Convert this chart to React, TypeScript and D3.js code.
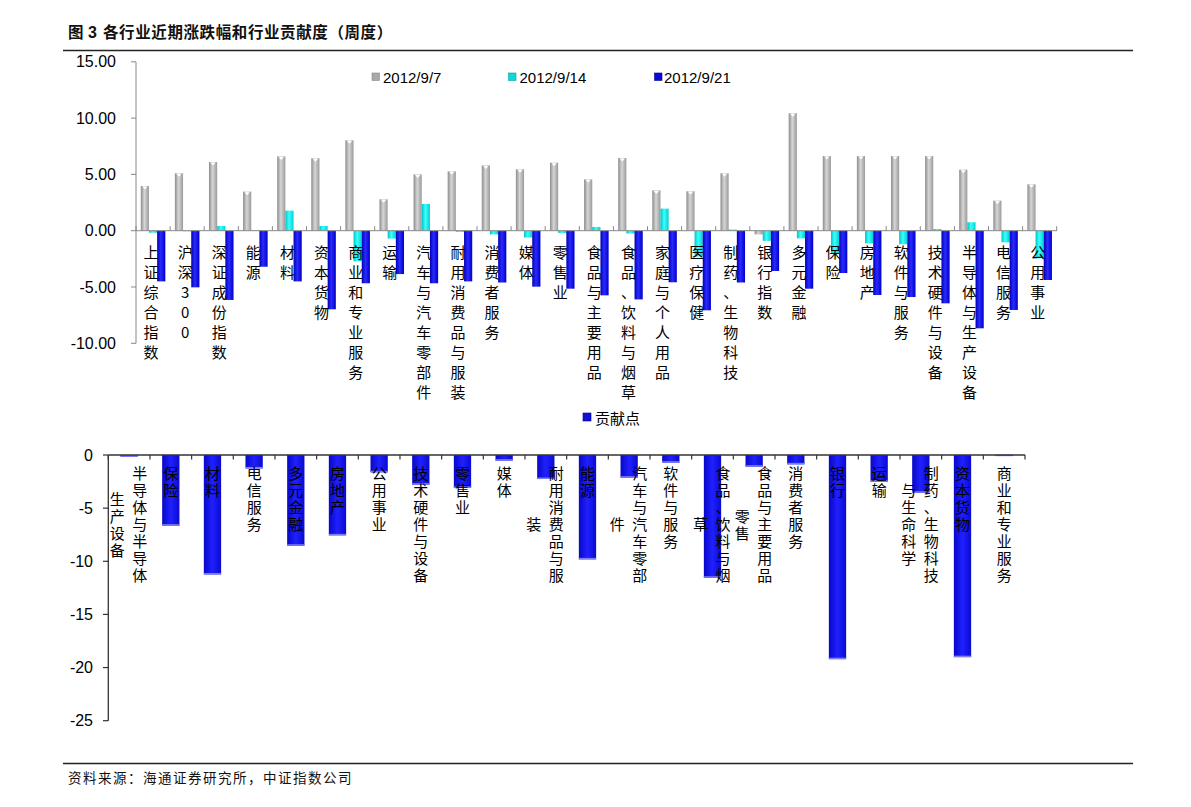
import React from "react";
import * as d3 from "d3";

const topCats = ["上证综合指数","沪深300","深证成份指数","能源","材料","资本货物","商业和专业服务","运输","汽车与汽车零部件","耐用消费品与服装","消费者服务","媒体","零售业","食品与主要用品","食品、饮料与烟草","家庭与个人用品","医疗保健","制药、生物科技","银行指数","多元金融","保险","房地产","软件与服务","技术硬件与设备","半导体与生产设备","电信服务","公用事业"];
const seriesNames = ["2012/9/7","2012/9/14","2012/9/21"];
const w0907 = [3.97,5.1,6.1,3.47,6.6,6.43,8.03,2.79,5.0,5.27,5.8,5.45,6.04,4.56,6.46,3.58,3.5,5.1,-0.33,10.43,6.63,6.63,6.63,6.63,5.42,2.67,4.12];
const w0914 = [-0.18,-0.05,0.42,0.05,1.78,0.42,-2.72,-0.7,2.37,-0.1,-0.33,-0.6,-0.2,0.33,-0.25,1.96,-2.3,0.1,-0.9,-0.68,-2.0,-1.12,-1.2,0.15,0.75,-1.03,-2.45];
const w0921 = [-4.5,-5.03,-6.15,-3.2,-4.5,-6.98,-4.67,-3.85,-4.67,-4.5,-4.6,-4.97,-5.15,-5.74,-6.1,-4.58,-7.07,-4.6,-3.58,-5.15,-3.76,-5.71,-5.89,-6.45,-8.67,-7.04,-4.38];
const topTicks = [15,10,5,0,-5,-10];

const botCats = ["半导体与半导体生产设备","保险","材料","电信服务","多元金融","房地产","公用事业","技术硬件与设备","零售业","媒体","耐用消费品与服装","能源","汽车与汽车零部件","软件与服务","食品、饮料与烟草","食品与主要用品零售","消费者服务","银行","运输","制药、生物科技与生命科学","资本货物","商业和专业服务"];
const contribName = "贡献点";
const contrib = [-0.15,-6.65,-11.24,-1.26,-8.54,-7.56,-1.63,-2.79,-3.1,-0.53,-2.26,-9.82,-2.13,-0.72,-11.55,-1.1,-0.88,-19.21,-2.51,-3.55,-19.02,-0.1];
const botTicks = [0,-5,-10,-15,-20,-25];

const titleText = "各行业近期涨跌幅和行业贡献度（周度）";
const sourceText = "资料来源：海通证券研究所，中证指数公司";

const CJK = "'Noto Sans CJK SC', 'Noto Sans', sans-serif";
const LAT = "'Liberation Sans', Arial, sans-serif";

const gradIds = ["gGray", "gCyan", "gBlue"];
const legendColors = ["#a8a8a8", "#10d8d8", "#0a0ad8"];

export default function App() {
  const series = [w0907, w0914, w0921];

  const xTop = d3.scaleBand<string>().domain(topCats).range([136, 1056.7]).padding(0);
  const bwTop = xTop.bandwidth();
  const xInner = d3.scaleBand<string>().domain(seriesNames).range([bwTop * 0.14, bwTop * 0.86]).padding(0);
  const yTop = d3.scaleLinear().domain([-10, 15]).range([343.3, 61.8]);

  const xBot = d3.scaleBand<string>().domain(botCats).range([108.3, 1025]).padding(0);
  const bwBot = xBot.bandwidth();
  const barBot = bwBot * 0.415;
  const yBot = d3.scaleLinear().domain([-25, 0]).range([720.7, 455]);

  const topBoundaries = d3.range(topCats.length + 1).map((i) => 136 + i * bwTop);
  const botBoundaries = d3.range(botCats.length + 1).map((i) => 108.3 + i * bwBot);

  const chunk = (s: string, n: number) => {
    const chars = Array.from(s);
    const out: string[][] = [];
    for (let i = 0; i < chars.length; i += n) out.push(chars.slice(i, i + n));
    return out;
  };

  return (
    <svg width={1191} height={807} style={{ position: "absolute", left: 0, top: 0, background: "#fff" }}>
      <defs>
        <linearGradient id="gGray" x1="0" x2="1" y1="0" y2="0">
          <stop offset="0" stopColor="#8c8c8c" />
          <stop offset="0.45" stopColor="#d6d6d6" />
          <stop offset="1" stopColor="#9a9a9a" />
        </linearGradient>
        <linearGradient id="gCyan" x1="0" x2="1" y1="0" y2="0">
          <stop offset="0" stopColor="#00c4c4" />
          <stop offset="0.45" stopColor="#3cffff" />
          <stop offset="1" stopColor="#00d0d0" />
        </linearGradient>
        <linearGradient id="gBlue" x1="0" x2="1" y1="0" y2="0">
          <stop offset="0" stopColor="#0000b4" />
          <stop offset="0.45" stopColor="#2a2aff" />
          <stop offset="1" stopColor="#0000c8" />
        </linearGradient>
        <linearGradient id="gBlueB" x1="0" x2="1" y1="0" y2="0">
          <stop offset="0" stopColor="#0808c8" />
          <stop offset="0.5" stopColor="#2020ff" />
          <stop offset="1" stopColor="#0a0ad0" />
        </linearGradient>
      </defs>

      {/* title */}
      <text x={68} y={38} fontFamily={CJK} fontSize={15.5} fontWeight="bold" fill="#111" letterSpacing={0.6}>
        <tspan>图</tspan>
        <tspan x={88} fontFamily={LAT} fontSize={16}>3</tspan>
        <tspan x={103}>{titleText}</tspan>
      </text>
      <line x1={63} x2={1133} y1={50.5} y2={50.5} stroke="#222" strokeWidth={1.3} />

      {/* TOP CHART */}
      <line x1={136} x2={136} y1={yTop(15)} y2={yTop(-10)} stroke="#888" strokeWidth={1} />
      {topTicks.map((t) => (
        <g key={"tt" + t}>
          <line x1={131} x2={136} y1={yTop(t)} y2={yTop(t)} stroke="#888" />
          <text x={116} y={yTop(t)} textAnchor="end" dominantBaseline="central" fontFamily={LAT} fontSize={16} fill="#000">
            {t.toFixed(2)}
          </text>
        </g>
      ))}

      {topCats.map((c, i) =>
        series.map((vals, s) => {
          const v = vals[i];
          const x = (xTop(c) as number) + (xInner(seriesNames[s]) as number);
          const w = xInner.bandwidth();
          const y0 = yTop(Math.max(0, v));
          const h = Math.abs(yTop(v) - yTop(0));
          return (
            <g key={c + s}>
              <rect x={x} y={y0} width={w} height={h} fill={`url(#${gradIds[s]})`} />
              {s === 0 && v > 0 && (
                <path d={`M${x + 1.5},${y0 + 0.5} L${x + w - 1.5},${y0 + 0.5} L${x + w / 2},${y0 + 3.5} Z`} fill="#fff" />
              )}
            </g>
          );
        })
      )}

      <line x1={136} x2={1057} y1={yTop(0)} y2={yTop(0)} stroke="#888" strokeWidth={1} />
      {topBoundaries.map((b, i) => (
        <line key={"tb" + i} x1={b} x2={b} y1={yTop(0) - 4.5} y2={yTop(0)} stroke="#888" />
      ))}

      {topCats.map((c) => {
        const cx = (xTop(c) as number) + bwTop / 2 - 2;
        return Array.from(c).map((ch, k) => (
          <text key={c + "l" + k} x={cx} y={251.7 + k * 20} textAnchor="middle" dominantBaseline="central" fontFamily={CJK} fontSize={15} fill="#000">
            {ch}
          </text>
        ));
      })}

      {[
        { x: 372, tx: 383 },
        { x: 508.5, tx: 519.5 },
        { x: 654.5, tx: 664 },
      ].map((p, s) => (
        <g key={"lg" + s}>
          <rect x={p.x} y={73} width={7.5} height={7.5} fill={legendColors[s]} stroke={s === 0 ? "#888" : s === 1 ? "#00a0a0" : "#000090"} strokeWidth={0.6} />
          <text x={p.tx} y={77} dominantBaseline="central" fontFamily={LAT} fontSize={15} fill="#000">
            {seriesNames[s]}
          </text>
        </g>
      ))}

      {/* BOTTOM CHART */}
      <rect x={583} y={413} width={8} height={8} fill="#1010d8" stroke="#000090" strokeWidth={0.6} />
      <text x={595} y={417.5} dominantBaseline="central" fontFamily={CJK} fontSize={15} fill="#000">{contribName}</text>

      {botCats.map((c, i) => {
        const v = contrib[i];
        const cx = (xBot(c) as number) + bwBot / 2;
        const y0 = yBot(0);
        const h = Math.abs(yBot(v) - y0);
        return (
          <g key={"bb" + c}>
            <rect x={cx - barBot / 2} y={y0} width={barBot} height={h} fill="url(#gBlueB)" />
            <rect x={cx - barBot / 2} y={y0 + h - 1.5} width={barBot} height={1.5} fill="#7c7cf4" />
          </g>
        );
      })}

      <line x1={108.3} x2={108.3} y1={yBot(0)} y2={yBot(-25)} stroke="#333" strokeWidth={1.3} />
      {botTicks.map((t) => (
        <g key={"bt" + t}>
          <line x1={103} x2={108.3} y1={yBot(t)} y2={yBot(t)} stroke="#333" strokeWidth={1.2} />
          <text x={93} y={yBot(t)} textAnchor="end" dominantBaseline="central" fontFamily={LAT} fontSize={16} fill="#000">
            {t}
          </text>
        </g>
      ))}
      <line x1={108.3} x2={1025} y1={yBot(0)} y2={yBot(0)} stroke="#333" strokeWidth={1.3} />
      {botBoundaries.map((b, i) => (
        <line key={"bbd" + i} x1={b} x2={b} y1={yBot(0)} y2={yBot(0) + 4.5} stroke="#333" strokeWidth={1.2} />
      ))}

      {botCats.map((c) => {
        const cx = (xBot(c) as number) + bwBot / 2;
        const cols = chunk(c, 7);
        const lh = 17;
        const top0 = 472.7;
        const fullH = (cols[0].length - 1) * lh;
        const mid = top0 + fullH / 2;
        const n = cols.length;
        return cols.map((col, ci) => {
          const colX = n === 1 ? cx : cx + 10.5 - ci * 22.5;
          const start = mid - ((col.length - 1) * lh) / 2;
          return col.map((ch, k) => (
            <text key={c + ci + "-" + k} x={colX} y={start + k * lh} textAnchor="middle" dominantBaseline="central" fontFamily={CJK} fontSize={15} fill="#000">
              {ch}
            </text>
          ));
        });
      })}

      {/* footer */}
      <line x1={63} x2={1133} y1={763.5} y2={763.5} stroke="#222" strokeWidth={1.3} />
      <text x={68} y={777} dominantBaseline="central" fontFamily={CJK} fontSize={13.5} letterSpacing={1.5} fill="#111">
        {sourceText}
      </text>
    </svg>
  );
}
